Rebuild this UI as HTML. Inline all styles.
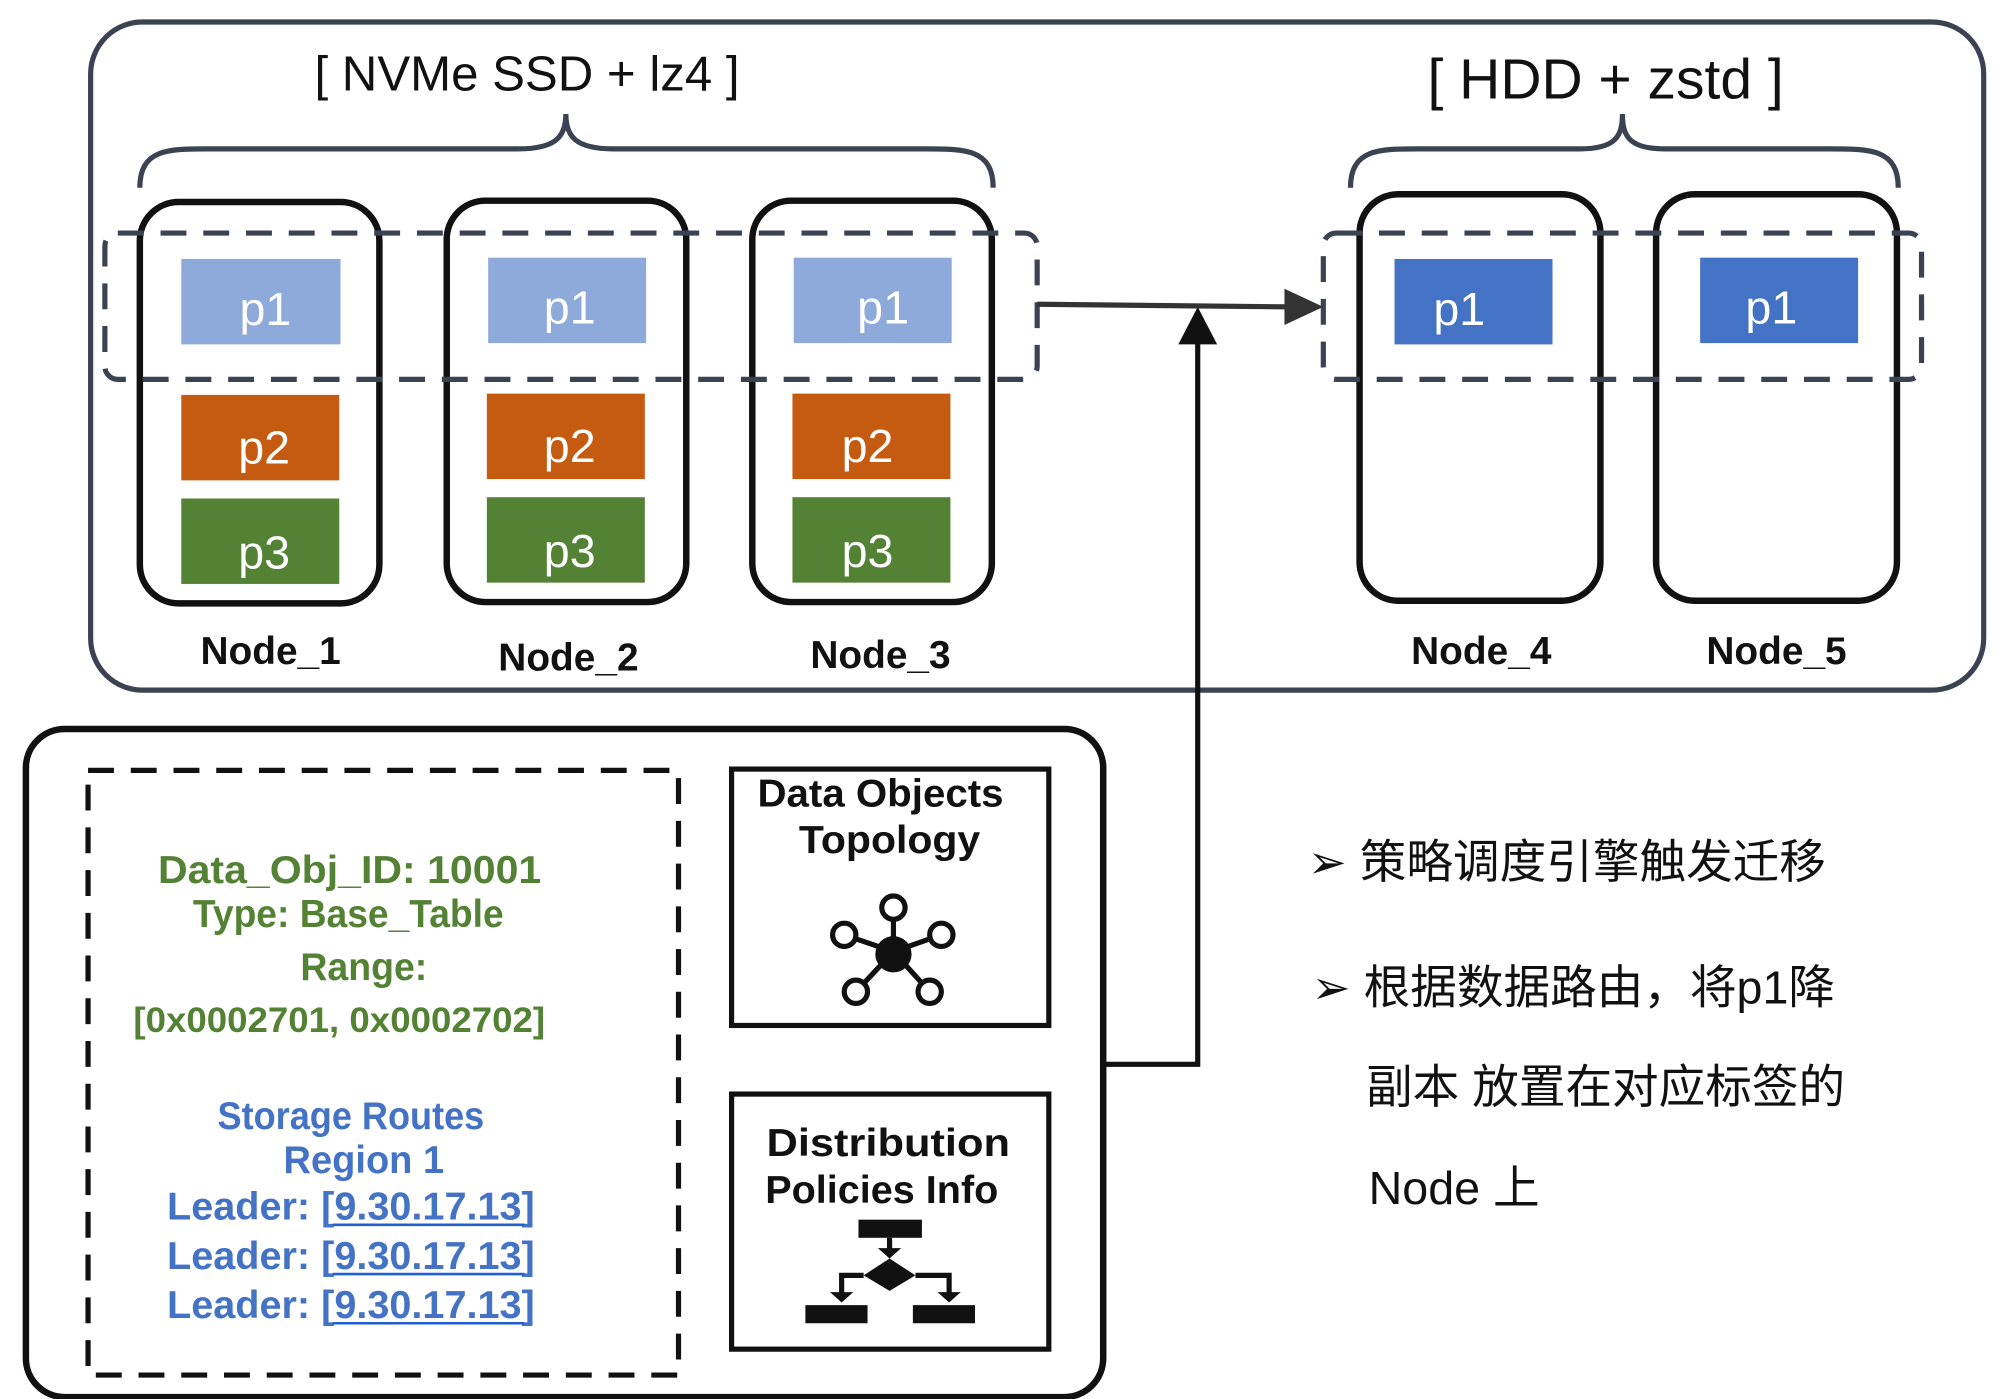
<!DOCTYPE html>
<html><head><meta charset="utf-8"><style>html,body{margin:0;padding:0;background:#fff}svg{display:block}</style></head>
<body>
<svg width="2007" height="1399" viewBox="0 0 1550 1080.5" preserveAspectRatio="none" xmlns="http://www.w3.org/2000/svg" font-family="Liberation Sans, sans-serif">
<defs>
<marker id="ah" markerWidth="10" markerHeight="10" refX="9" refY="5" orient="auto" markerUnits="userSpaceOnUse"><path d="M0,0 L10,5 L0,10z" fill="#333"/></marker>
</defs>
<!-- outer top box -->
<rect x="70" y="17" width="1462" height="516" rx="40" fill="none" stroke="#3b4252" stroke-width="4"/>
<!-- braces -->
<path d="M108,145 C108,115 130,115 160,115 L400,115 C430,115 437,105 437,88 C437,105 444,115 474,115 L715,115 C745,115 767,115 767,145" fill="none" stroke="#3b4252" stroke-width="4"/>
<path d="M1043,145 C1043,115 1065,115 1095,115 L1220,115 C1248,115 1253,105 1253,88 C1253,105 1258,115 1286,115 L1414,115 C1444,115 1466,115 1466,145" fill="none" stroke="#3b4252" stroke-width="4"/>
<text x="407" y="70" font-size="38" text-anchor="middle" fill="#111">[ NVMe SSD + lz4 ]</text>
<text x="1240" y="76" font-size="44" text-anchor="middle" fill="#111">[ HDD + zstd ]</text>
<!-- nodes -->
<g fill="none" stroke="#111" stroke-width="5">
<rect x="108" y="156" width="185" height="310" rx="30"/>
<rect x="345" y="155" width="185" height="310" rx="30"/>
<rect x="581" y="155" width="185" height="310" rx="30"/>
<rect x="1050" y="150" width="186" height="314" rx="30"/>
<rect x="1279" y="150" width="186" height="314" rx="30"/>
</g>
<!-- blocks -->
<g>
<rect x="140" y="200" width="123" height="66" fill="#8eaadb"/>
<rect x="377" y="199" width="122" height="66" fill="#8eaadb"/>
<rect x="613" y="199" width="122" height="66" fill="#8eaadb"/>
<rect x="140" y="305" width="122" height="66" fill="#c55a11"/>
<rect x="376" y="304" width="122" height="66" fill="#c55a11"/>
<rect x="612" y="304" width="122" height="66" fill="#c55a11"/>
<rect x="140" y="385" width="122" height="66" fill="#548235"/>
<rect x="376" y="384" width="122" height="66" fill="#548235"/>
<rect x="612" y="384" width="122" height="66" fill="#548235"/>
<rect x="1077" y="200" width="122" height="66" fill="#4472c4"/>
<rect x="1313" y="199" width="122" height="66" fill="#4472c4"/>
</g>
<g font-size="36" fill="#fff" text-anchor="middle">
<text x="205" y="251">p1</text><text x="440" y="250">p1</text><text x="682" y="250">p1</text>
<text x="204" y="358">p2</text><text x="440" y="357">p2</text><text x="670" y="357">p2</text>
<text x="204" y="439">p3</text><text x="440" y="438">p3</text><text x="670" y="438">p3</text>
<text x="1127" y="251">p1</text><text x="1368" y="250">p1</text>
</g>
<!-- dashed groups -->
<rect x="81" y="180" width="720" height="113" rx="10" fill="none" stroke="#3b4252" stroke-width="4" stroke-dasharray="20,13"/>
<rect x="1022" y="180" width="462" height="113" rx="10" fill="none" stroke="#3b4252" stroke-width="4" stroke-dasharray="20,13"/>
<g font-size="30" font-weight="bold" fill="#111" text-anchor="middle">
<text x="209" y="513">Node_1</text><text x="439" y="518">Node_2</text><text x="680" y="516">Node_3</text>
<text x="1144" y="513">Node_4</text><text x="1372" y="513">Node_5</text>
</g>
<!-- arrows -->
<line x1="801" y1="235" x2="995" y2="237" stroke="#333" stroke-width="4"/>
<path d="M992,223 L1022,237 L992,251z" fill="#333"/>
<path d="M853,822 L925,822 L925,262" fill="none" stroke="#111" stroke-width="4"/>
<path d="M910,266 L925,237 L940,266z" fill="#111"/>
<!-- bottom box -->
<rect x="20" y="565" width="832" height="516" rx="30" fill="none" stroke="#111" stroke-width="5" transform="translate(0,-2)"/>
<rect x="68" y="595" width="456" height="467" fill="none" stroke="#111" stroke-width="4" stroke-dasharray="20,13"/>
<rect x="565" y="594" width="245" height="198" fill="none" stroke="#111" stroke-width="4"/>
<rect x="565" y="845" width="245" height="197" fill="none" stroke="#111" stroke-width="4"/>
<g font-size="30" font-weight="bold" fill="#111" text-anchor="middle">
<text x="680" y="623" textLength="190" lengthAdjust="spacingAndGlyphs">Data Objects</text>
<text x="687" y="659" textLength="140" lengthAdjust="spacingAndGlyphs">Topology</text>
<text x="686" y="893" textLength="188" lengthAdjust="spacingAndGlyphs">Distribution</text>
<text x="681" y="929" textLength="180" lengthAdjust="spacingAndGlyphs">Policies Info</text>
</g>
<!-- network icon -->
<g stroke="#111" stroke-width="4" fill="none">
<line x1="690" y1="735" x2="690" y2="701"/><line x1="690" y1="735" x2="652" y2="722"/><line x1="690" y1="735" x2="727" y2="722"/>
<line x1="690" y1="735" x2="661" y2="766"/><line x1="690" y1="735" x2="718" y2="766"/>
<circle cx="690" cy="701" r="9" fill="#fff"/><circle cx="652" cy="722" r="9" fill="#fff"/><circle cx="727" cy="722" r="9" fill="#fff"/>
<circle cx="661" cy="766" r="9" fill="#fff"/><circle cx="718" cy="766" r="9" fill="#fff"/>
</g>
<circle cx="690" cy="737" r="14" fill="#111"/>
<!-- flowchart icon -->
<g fill="#111">
<rect x="663" y="942" width="49" height="14"/>
<rect x="685" y="956" width="4" height="12"/><path d="M678,964 L687,972 L696,964z"/>
<path d="M687,972 L707,985 L687,997 L667,985z"/>
<path d="M648,983 L667,983 L667,987 L652,987 L652,1000 L648,1000z"/>
<path d="M707,983 L735,983 L735,1000 L731,1000 L731,987 L707,987z"/>
<path d="M641,998 L650,1006 L659,998z"/><path d="M724,998 L733,1006 L742,998z"/>
<rect x="622" y="1008" width="48" height="14"/><rect x="705" y="1008" width="48" height="14"/>
</g>
<!-- green text -->
<g font-size="30" font-weight="bold" fill="#548235" text-anchor="middle">
<text x="270" y="682" textLength="296" lengthAdjust="spacingAndGlyphs">Data_Obj_ID: 10001</text>
<text x="269" y="716" textLength="240" lengthAdjust="spacingAndGlyphs">Type: Base_Table</text>
<text x="281" y="757" textLength="98" lengthAdjust="spacingAndGlyphs">Range:</text>
<text x="262" y="797" font-size="27" textLength="318" lengthAdjust="spacingAndGlyphs">[0x0002701, 0x0002702]</text>
</g>
<g font-size="30" font-weight="bold" fill="#4472c4" text-anchor="middle">
<text x="271" y="872" textLength="206" lengthAdjust="spacingAndGlyphs">Storage Routes</text>
<text x="281" y="906" textLength="124" lengthAdjust="spacingAndGlyphs">Region 1</text>
<text x="271" y="942" textLength="284" lengthAdjust="spacingAndGlyphs">Leader: [9.30.17.13]</text>
<text x="271" y="980" textLength="284" lengthAdjust="spacingAndGlyphs">Leader: [9.30.17.13]</text>
<text x="271" y="1018" textLength="284" lengthAdjust="spacingAndGlyphs">Leader: [9.30.17.13]</text>
</g>
<g stroke="#1f5fd1" stroke-width="2">
<line x1="257" y1="946" x2="405" y2="946"/><line x1="257" y1="984" x2="405" y2="984"/><line x1="257" y1="1022" x2="405" y2="1022"/>
</g>
<!-- right chinese text -->
<g font-size="36" fill="#111" font-family="Liberation Sans, Noto Sans CJK SC, sans-serif">
<text x="1010" y="678">➢ 策略调度引擎触发迁移</text>
<text x="1013" y="775">➢ 根据数据路由，将p1降</text>
<text x="1055" y="852">副本 放置在对应标签的</text>
<text x="1057" y="930">Node 上</text>
</g>
</svg>
</body></html>
